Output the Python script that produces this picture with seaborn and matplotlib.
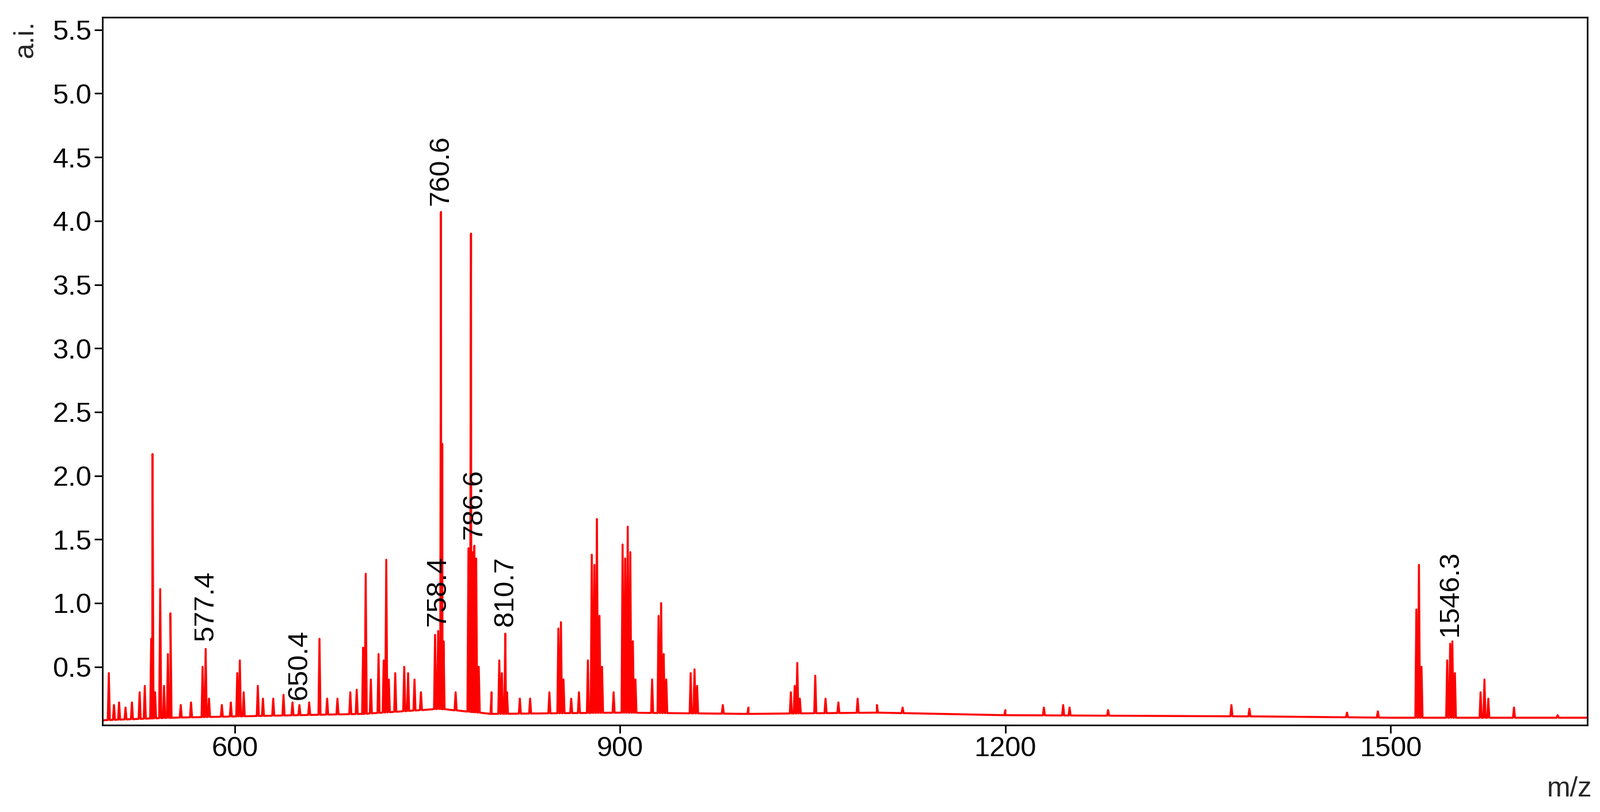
import numpy as np
import pandas as pd
import matplotlib
matplotlib.use("Agg")
import matplotlib.pyplot as plt
import seaborn as sns

# peak list (m/z, intensity)
peak_mz = [502, 506, 510, 515, 520, 526, 530, 535, 536, 538, 542, 545, 548, 550, 558, 566,
           575, 577.4, 580, 590, 597, 602, 604, 607, 618, 622, 630, 638, 645, 650.4, 658, 666, 672, 680,
           690, 695, 700, 702, 706, 712, 716, 718, 720, 725, 732, 735, 740, 745, 756, 758.4,
           760.6, 761.6, 762.6, 772, 782, 784, 785, 786.6, 788, 790, 800, 806, 808, 810.7,
           812, 822, 830, 845, 852, 854, 856, 862, 868, 875, 878, 880, 882, 884, 886, 895, 902,
           904, 906, 908, 910, 912, 925, 930, 932, 934, 936, 955, 958, 960, 980, 1000, 1033,
           1036, 1038, 1040, 1052, 1060, 1070, 1085, 1100, 1120, 1200, 1230, 1245, 1250,
           1280, 1376, 1390, 1466, 1490, 1520, 1522, 1524, 1544, 1546.3, 1548, 1550, 1570,
           1573, 1576, 1596, 1630]
peak_int = [0.45, 0.2, 0.22, 0.18, 0.22, 0.3, 0.35, 0.72, 2.17, 0.3, 1.11, 0.35, 0.6, 0.92, 0.2, 0.22,
            0.5, 0.64, 0.25, 0.2, 0.22, 0.45, 0.55, 0.3, 0.35, 0.25, 0.25, 0.28, 0.22, 0.2, 0.22, 0.72, 0.25, 0.25,
            0.3, 0.32, 0.65, 1.23, 0.4, 0.6, 0.55, 1.34, 0.4, 0.45, 0.5, 0.45, 0.4, 0.3, 0.75, 0.78,
            4.07, 2.25, 0.7, 0.3, 1.43, 3.9, 1.4, 1.45, 1.35, 0.5, 0.3, 0.55, 0.45, 0.76,
            0.3, 0.25, 0.25, 0.3, 0.8, 0.85, 0.4, 0.25, 0.3, 0.55, 1.38, 1.3, 1.66, 0.9, 0.5, 0.3, 1.46,
            1.35, 1.6, 1.4, 0.7, 0.4, 0.4, 0.9, 1.0, 0.6, 0.4, 0.45, 0.48, 0.35, 0.2, 0.18, 0.3,
            0.35, 0.53, 0.25, 0.43, 0.25, 0.22, 0.25, 0.2, 0.18, 0.16, 0.18, 0.2, 0.18,
            0.16, 0.2, 0.17, 0.14, 0.15, 0.95, 1.3, 0.5, 0.55, 0.68, 0.7, 0.45, 0.3,
            0.4, 0.25, 0.18, 0.12]

# baseline anchors
base_mz = [497, 550, 600, 700, 760, 800, 900, 1000, 1100, 1200, 1400, 1500, 1653]
base_int = [0.08, 0.1, 0.11, 0.13, 0.17, 0.13, 0.14, 0.13, 0.14, 0.12, 0.11, 0.1, 0.1]

label_mz = [577.4, 650.4, 758.4, 760.6, 786.6, 810.7, 1546.3]
label_y = [0.68, 0.22, 0.8, 4.1, 1.48, 0.8, 0.72]

# build stick line: baseline - apex - baseline for each peak
xs, ys = list(base_mz), list(base_int)
for m, h in zip(peak_mz, peak_int):
    b = float(np.interp(m, base_mz, base_int))
    xs += [m - 0.8, m, m + 0.8]
    ys += [b, h, b]
df = pd.DataFrame({"mz": xs, "ai": ys}).sort_values("mz")

sns.set_style("ticks")
plt.rcParams["font.family"] = ["Liberation Sans", "DejaVu Sans"]

fig = plt.figure(figsize=(27.8, 14.11), dpi=100)
ax = fig.add_axes([0.064, 0.107, 0.928, 0.872])
sns.lineplot(data=df, x="mz", y="ai", color="#ff0000", lw=2.5, sort=False, estimator=None, ax=ax)

for m, y in zip(label_mz, label_y):
    ax.text(m, y + 0.02, f"{m:.1f}", rotation=90, ha="center", va="bottom", fontsize=35, color="black")

ax.set_xlim(497, 1653)
ax.set_ylim(0.042, 5.6)
ax.set_xticks([600, 900, 1200, 1500])
ax.set_yticks(np.arange(0.5, 5.51, 0.5))
ax.set_yticklabels([f"{v:.1f}" for v in np.arange(0.5, 5.51, 0.5)])
ax.tick_params(labelsize=35, width=2, length=10, direction="out", colors="black")
for s in ax.spines.values():
    s.set_linewidth(2)
    s.set_color("black")
ax.set_xlabel("")
ax.set_ylabel("")
fig.text(0.008, 0.975, "a.i.", rotation=90, ha="left", va="top", fontsize=35)
fig.text(0.995, 0.012, "m/z", ha="right", va="bottom", fontsize=35)

fig.savefig("out.png", dpi=100)
